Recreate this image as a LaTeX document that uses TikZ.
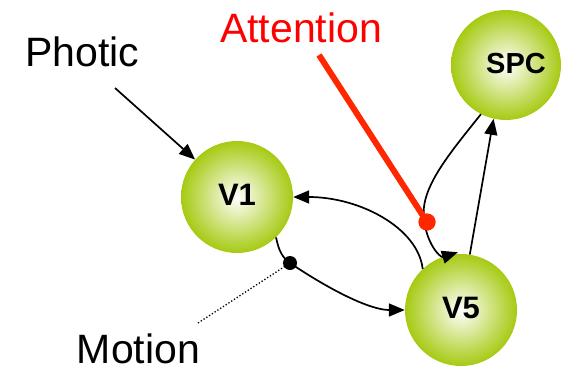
\documentclass[tikz,border=0pt]{standalone}
\usepackage{fontspec}
\setmainfont{Liberation Sans}
\usetikzlibrary{arrows.meta}
\definecolor{ballgreen}{RGB}{166,202,18}
\definecolor{attred}{RGB}{255,38,0}
\begin{document}
\begin{tikzpicture}[x=1pt,y=1pt,
  ball/.style={circle,minimum size=#1,inner sep=0pt,shading=radial,inner color=white,outer color=ballgreen},
  ball/.default=112pt,
  lbl/.style={anchor=base,inner sep=0pt,font=\fontsize{41}{41}\selectfont},
  btxt/.style={font=\bfseries\fontsize{31}{31}\selectfont},
  conn/.style={line width=1.7pt,-{Triangle[length=16pt,width=13pt]}},
  ]
\useasboundingbox (0,0) rectangle (567,368);
\node[ball] (V1) at (237,171) {};
\node[btxt] at (237,173) {V1};
\node[ball] (V5) at (461,58) {};
\node[btxt] at (461,60) {V5};
\node[ball=110pt] (SPC) at (506,303) {};
\node[btxt,font=\bfseries\fontsize{29}{29}\selectfont] at (516,304) {SPC};
\node[lbl] (photic) at (82.5,302) {Photic};
\node[lbl,text=red] (att) at (301,326) {Attention};
\node[lbl] (motion) at (138.5,5) {Motion};
\coordinate (pstart) at (115,280);
\coordinate (mstart) at (198,45);
\coordinate (rstart) at (319,313);
\node[circle,fill=black,minimum size=14pt,inner sep=0pt] (bdot) at (290,105) {};
\node[circle,fill=attred,minimum size=17pt,inner sep=0pt] (rdot) at (427,146) {};
% Photic -> V1
\draw[conn] (pstart) -- (V1);
% V1 -> V5 via black dot
\draw[conn] (V1.-46) .. controls (279,116) and (283,110) .. (bdot.center)
  .. controls (330,78) and (370,58) .. (V5.west);
% V5 -> V1
\draw[conn] (V5.133) .. controls (418,140) and (360,171) .. (V1.east);
% V5 -> SPC
\draw[conn] (V5.81) -- (SPC.-103);
% SPC -> V5 via red dot
\draw[conn,shorten >=-9pt] (SPC.243) .. controls (450,215) and (420,180) .. (424,150)
  .. controls (426,125) and (440,110) .. (V5.102);
% Motion dotted
\draw[line width=1.3pt,dotted] (mstart) -- (bdot.center);
% Attention red line
\draw[line width=6pt,attred] (rstart) -- (rdot.center);
\node[circle,fill=attred,minimum size=17pt,inner sep=0pt] at (rdot) {};
\end{tikzpicture}
\end{document}
